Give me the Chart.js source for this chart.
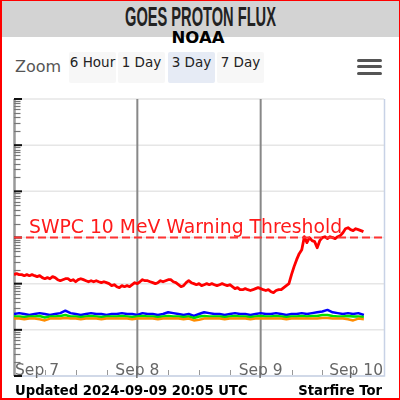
<!DOCTYPE html>
<html>
<head>
<meta charset="utf-8">
<script src="https://cdn.jsdelivr.net/npm/chart.js@4"></script>
<style>
  body { margin: 0; background: #fff; }
  #page { position: absolute; left: 0; top: 0; width: 400px; height: 400px; overflow: hidden; font-family: "DejaVu Sans", sans-serif; }
  #band { position: absolute; left: 0; top: 0; width: 400px; height: 37px; background: #d3d3d3; }
  #title { position: absolute; top: 3px; left: 200px; font-family: "Liberation Sans Narrow", "Liberation Sans", sans-serif; font-weight: bold; font-size: 28px; line-height: 1; color: #222; white-space: nowrap; transform-origin: 0 0; }
  #noaa { position: absolute; top: 30px; left: 0; width: 396px; text-align: center; font-weight: bold; font-size: 16.5px; line-height: 1; color: #000; }
  #zoom { position: absolute; top: 58.5px; left: 15px; font-size: 16px; line-height: 1; color: #555; }
  .btn { position: absolute; top: 52px; height: 31px; width: 47px; background: #f7f7f7; border-radius: 2px; font-size: 13.5px; line-height: 1; color: #222; text-align: center; box-sizing: border-box; padding-top: 3.6px; white-space: nowrap; }
  .btn.on { background: #e6ebf5; }
  .bar { position: absolute; left: 357px; width: 25px; height: 3px; background: #555; border-radius: 1.5px; }
  #chart { position: absolute; left: 0; top: 0; }
  #frame { position: absolute; left: 0; top: 0; width: 400px; height: 400px; box-sizing: border-box; border: 2px solid #ff0000; border-top-width: 1px; border-right-width: 1px; pointer-events: none; }
</style>
</head>
<body>
<div id="page">
  <div id="band"></div>
  <div id="title">GOES PROTON FLUX</div>
  <div id="noaa">NOAA</div>
  <div id="zoom">Zoom</div>
  <div class="btn" style="left:69px">6 Hour</div>
  <div class="btn" style="left:118px">1 Day</div>
  <div class="btn on" style="left:168px">3 Day</div>
  <div class="btn" style="left:217px">7 Day</div>
  <div class="bar" style="top:59px"></div>
  <div class="bar" style="top:65px"></div>
  <div class="bar" style="top:71.5px"></div>
  <canvas id="chart" width="400" height="400"></canvas>
  <div id="frame"></div>
</div>
<script>
// hours since Sep 7 00:00 UTC
const hours = [0,1,2,3,4,5,6,7,8,9,10,11,12,13,14,15,16,17,18,19,20,21,22,23,24,25,26,27,28,29,30,31,32,33,34,35,36,37,38,39,40,41,42,43,44,45,46,47,48,49,50,51,52,53,54,55,56,57,58,59,60,61,62,63,64,65,66,67,68.08];
const hoursHalf = [0,0.5,1,1.5,2,2.5,3,3.5,4,4.5,5,5.5,6,6.5,7,7.5,8,8.5,9,9.5,10,10.5,11,11.5,12,12.5,13,13.5,14,14.5,15,15.5,16,16.5,17,17.5,18,18.5,19,19.5,20,20.5,21,21.5,22,22.5,23,23.5,24,24.5,25,25.5,26,26.5,27,27.5,28,28.5,29,29.5,30,30.5,31,31.5,32,32.5,33,33.5,34,34.5,35,35.5,36,36.5,37,37.5,38,38.5,39,39.5,40,40.5,41,41.5,42,42.5,43,43.5,44,44.5,45,45.5,46,46.5,47,47.5,48,48.5,49,49.5,50,50.5,51,51.5,52,52.5,53,53.5,54,54.5,55,55.5,56,56.5,57,57.5,58,58.5,59,59.5,60,60.5,61,61.5,62,62.5,63,63.5,64,64.5,65,65.5,66,66.5,67,67.5,68,68.08];

// proton flux, pfu
const flux10 = [1.57,1.65,1.57,1.57,1.49,1.57,1.49,1.57,1.49,1.42,1.49,1.35,1.28,1.35,1.28,1.42,1.35,1.22,1.16,1.22,
  1.28,1.28,1.16,1.22,1.10,1.22,1.28,1.22,1.16,1.10,1.16,1.10,1.16,1.10,1.05,1.10,1.05,1.0,0.905,0.95,
  0.86,0.82,0.905,0.86,0.905,0.86,0.95,1.05,1.0,1.10,1.22,1.16,1.16,1.10,1.05,1.0,1.05,1.16,1.10,1.16,
  1.22,1.22,1.10,1.05,0.95,0.86,0.905,1.05,1.16,1.05,1.0,0.95,1.0,0.905,0.95,1.0,0.95,1.0,0.95,0.905,
  0.95,1.0,0.95,0.905,0.95,0.86,0.78,0.82,0.74,0.74,0.78,0.74,0.71,0.74,0.78,0.82,0.78,0.74,0.71,0.74,
  0.67,0.64,0.71,0.74,0.74,0.82,0.905,1.0,1.57,2.34,3.31,4.47,5.45,10.4,7.73,9.91,8.54,8.12,6.02,8.54,
  9.91,10.4,9.43,10.4,9.91,9.43,10.4,10.96,12.7,15.5,16.3,14.8,14.1,15.5,14.8,14.1,13.4,13.4];
const fluxBlue = [0.22,0.23,0.22,0.21,0.22,0.23,0.22,0.21,0.22,0.23,0.26,0.23,0.22,0.21,0.22,0.23,0.22,0.22,0.21,0.22,0.22,0.23,0.22,0.22,0.21,0.23,0.22,0.22,0.21,0.22,0.24,0.23,0.22,0.21,0.22,0.20,0.22,0.24,0.23,0.22,0.22,0.21,0.22,0.23,0.22,0.22,0.21,0.22,0.23,0.22,0.22,0.23,0.22,0.21,0.22,0.22,0.23,0.22,0.23,0.24,0.25,0.27,0.24,0.23,0.22,0.23,0.22,0.23,0.21];
const fluxGreen = [0.195,0.195,0.19,0.195,0.195,0.2,0.185,0.195,0.195,0.2,0.21,0.195,0.195,0.19,0.195,0.2,0.195,0.19,0.195,0.195,0.195,0.2,0.195,0.19,0.195,0.2,0.195,0.195,0.19,0.195,0.2,0.195,0.195,0.19,0.195,0.18,0.195,0.2,0.195,0.195,0.195,0.19,0.195,0.2,0.195,0.195,0.19,0.195,0.2,0.195,0.195,0.2,0.195,0.19,0.195,0.195,0.2,0.195,0.2,0.2,0.21,0.21,0.2,0.195,0.195,0.2,0.195,0.195,0.19];
const fluxOrange = [0.175,0.175,0.17,0.175,0.175,0.17,0.16,0.175,0.175,0.175,0.18,0.175,0.175,0.17,0.175,0.175,0.175,0.17,0.175,0.175,0.175,0.175,0.175,0.17,0.175,0.175,0.175,0.175,0.17,0.175,0.175,0.175,0.175,0.17,0.175,0.16,0.165,0.175,0.175,0.175,0.175,0.17,0.175,0.175,0.175,0.175,0.17,0.175,0.175,0.175,0.175,0.175,0.175,0.17,0.175,0.175,0.175,0.175,0.175,0.175,0.18,0.18,0.175,0.175,0.175,0.17,0.16,0.175,0.17];

const threshold = 10;
const dayTicks = [0, 24, 48, 72];
const dayLabels = ['Sep 7', 'Sep 8', 'Sep 9', 'Sep 10'];
const decades = [0.01, 0.1, 1, 10, 100, 1000, 10000];

// squeeze title to the condensed look
const t = document.getElementById('title');
const sx = 151 / t.offsetWidth;
t.style.transform = 'scaleX(' + sx + ')';
t.style.left = (200 - 151 / 2) + 'px';

function pts(xs, vals) {
  return vals.map((v, i) => ({ x: xs[i], y: v }));
}

const backdrop = {
  id: 'backdrop',
  beforeDatasetsDraw(chart) {
    const { ctx, chartArea: a, scales: { x, y } } = chart;
    ctx.save();
    // decade grid
    ctx.strokeStyle = '#e6e6e6';
    ctx.lineWidth = 1.5;
    decades.forEach(d => {
      const py = y.getPixelForValue(d);
      ctx.beginPath(); ctx.moveTo(a.left, py); ctx.lineTo(a.right, py); ctx.stroke();
    });
    // day lines
    ctx.strokeStyle = '#888';
    ctx.lineWidth = 2;
    dayTicks.slice(1, -1).forEach(h => {
      const px = x.getPixelForValue(h);
      ctx.beginPath(); ctx.moveTo(px, a.top); ctx.lineTo(px, a.bottom); ctx.stroke();
    });
    // plot frame right/bottom
    ctx.strokeStyle = '#c8d2e6';
    ctx.lineWidth = 1.5;
    ctx.beginPath();
    ctx.moveTo(a.right + 0.5, a.top); ctx.lineTo(a.right + 0.5, a.bottom);
    ctx.lineTo(a.left, a.bottom);
    ctx.stroke();
    // x minor ticks every 6 hours
    ctx.strokeStyle = '#999';
    ctx.lineWidth = 1;
    for (let h = 6; h < 72; h += 6) {
      if (h % 24 === 0) continue;
      const px = Math.round(x.getPixelForValue(h)) + 0.5;
      ctx.beginPath(); ctx.moveTo(px, a.bottom - 6); ctx.lineTo(px, a.bottom - 1); ctx.stroke();
    }
    // left axis
    ctx.strokeStyle = '#999';
    ctx.lineWidth = 2.5;
    ctx.beginPath(); ctx.moveTo(a.left + 0.5, a.top); ctx.lineTo(a.left + 0.5, a.bottom); ctx.stroke();
    ctx.strokeStyle = '#777';
    ctx.lineWidth = 1.2;
    decades.slice(0, -1).forEach(d => {
      for (let m = 2; m <= 9; m++) {
        const py = Math.round(y.getPixelForValue(d * m)) + 0.5;
        ctx.beginPath(); ctx.moveTo(a.left, py); ctx.lineTo(a.left + 6.5, py); ctx.stroke();
      }
    });
    ctx.strokeStyle = '#111';
    ctx.lineWidth = 2;
    decades.forEach(d => {
      const py = y.getPixelForValue(d);
      ctx.beginPath(); ctx.moveTo(a.left, py); ctx.lineTo(a.left + 8, py); ctx.stroke();
    });
    // threshold label
    ctx.fillStyle = '#ff1a1a';
    ctx.font = '18.8px "DejaVu Sans"';
    ctx.textBaseline = 'alphabetic';
    ctx.textAlign = 'left';
    ctx.fillText('SWPC 10 MeV Warning Threshold', a.left + 15, y.getPixelForValue(threshold) - 5);
    ctx.restore();
  },
  afterDraw(chart) {
    const { ctx, chartArea: a, scales: { x } } = chart;
    ctx.save();
    ctx.fillStyle = '#666';
    ctx.font = '15.5px "DejaVu Sans"';
    ctx.textBaseline = 'alphabetic';
    dayTicks.forEach((h, i) => {
      let px = x.getPixelForValue(h);
      if (i === 0) { ctx.textAlign = 'left'; px += 1; }
      else if (i === dayTicks.length - 1) { ctx.textAlign = 'right'; px -= 1; }
      else ctx.textAlign = 'center';
      ctx.fillText(dayLabels[i], px, a.bottom - 1);
    });
    ctx.fillStyle = '#000';
    ctx.font = 'bold 13.2px "DejaVu Sans"';
    ctx.textAlign = 'left';
    ctx.fillText('Updated 2024-09-09 20:05 UTC', 15, 395);
    ctx.textAlign = 'right';
    ctx.fillText('Starfire Tor', 382, 395);
    ctx.restore();
  }
};

new Chart(document.getElementById('chart'), {
  type: 'line',
  data: {
    datasets: [
      { data: [{ x: 0, y: threshold }, { x: 72, y: threshold }], borderColor: '#ff3333', borderWidth: 2, borderDash: [8, 4] },
      { data: pts(hours, fluxOrange), borderColor: '#ff8c00', borderWidth: 2.5 },
      { data: pts(hours, fluxGreen), borderColor: '#00e000', borderWidth: 2.5 },
      { data: pts(hours, fluxBlue), borderColor: '#0000ff', borderWidth: 2.5 },
      { data: pts(hoursHalf, flux10), borderColor: '#ff0000', borderWidth: 2.8 }
    ]
  },
  options: {
    responsive: false,
    animation: false,
    layout: { padding: { left: 14, right: 16, top: 99, bottom: 24 } },
    elements: { point: { radius: 0 }, line: { tension: 0, borderJoinStyle: 'round' } },
    plugins: { legend: { display: false }, tooltip: { enabled: false } },
    scales: {
      x: { type: 'linear', min: 0, max: 72, display: false },
      y: { type: 'logarithmic', min: 0.01, max: 10000, display: false }
    }
  },
  plugins: [backdrop]
});
</script>
</body>
</html>
